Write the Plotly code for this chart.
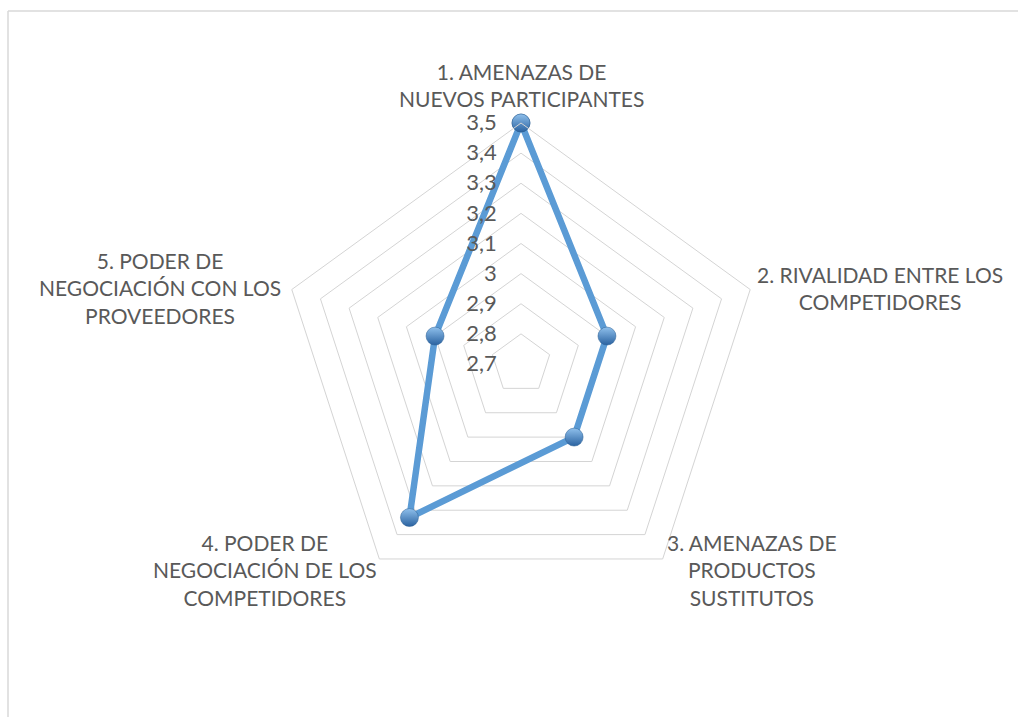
import plotly.graph_objects as go

categories = [
    "1. AMENAZAS DE<br>NUEVOS PARTICIPANTES",
    "2. RIVALIDAD ENTRE LOS<br>COMPETIDORES",
    "3. AMENAZAS DE<br>PRODUCTOS<br>SUSTITUTOS",
    "4. PODER DE<br>NEGOCIACIÓN DE LOS<br>COMPETIDORES",
    "5. PODER DE<br>NEGOCIACIÓN CON LOS<br>PROVEEDORES",
]
values = [3.5, 3.0, 3.0, 3.33, 3.0]
tick_vals = [2.7, 2.8, 2.9, 3.0, 3.1, 3.2, 3.3, 3.4, 3.5]
tick_text = ["2,7", "2,8", "2,9", "3", "3,1", "3,2", "3,3", "3,4", "3,5"]

W, H = 1018, 717
FONT = "Lato, Carlito, Calibri, sans-serif"
TXT = "#595959"
GRID = "#d4d4d4"
BLUE = "#5B9BD5"

fig = go.Figure()
fig.add_trace(go.Scatterpolar(
    r=values + values[:1],
    theta=categories + categories[:1],
    mode="lines+markers",
    line=dict(color=BLUE, width=6.5),
    marker=dict(size=18, color="#8FC0EC",
                gradient=dict(type="vertical", color="#2A62A0"),
                line=dict(color="#2B5F93", width=0.5)),
    showlegend=False,
    hoverinfo="skip",
))

cx, cy, R = 521, 364, 241
fig.update_layout(
    width=W, height=H,
    margin=dict(l=0, r=0, t=0, b=0),
    paper_bgcolor="white",
    font=dict(family=FONT, color=TXT, size=21),
    polar=dict(
        domain=dict(x=[(cx - R) / W, (cx + R) / W],
                    y=[(H - cy - R) / H, (H - cy + R) / H]),
        gridshape="linear",
        bgcolor="white",
        radialaxis=dict(
            range=[2.7, 3.5], tickvals=tick_vals, ticktext=tick_text,
            angle=90, tickangle=90, side="counterclockwise",
            showline=False, gridcolor=GRID, gridwidth=1,
            ticks="outside", ticklen=16, tickcolor="rgba(0,0,0,0)",
            tickfont=dict(family=FONT, size=22, color=TXT),
        ),
        angularaxis=dict(
            direction="clockwise", rotation=90,
            showgrid=False, showticklabels=False, ticks="",
            showline=True, linecolor=GRID, linewidth=1,
        ),
    ),
)

# category labels
label_pos = [(521, 85), (880, 288), (752, 570), (265, 570), (160, 288)]
for text, (x, y) in zip(categories, label_pos):
    fig.add_annotation(x=x / W, y=1 - y / H, xref="paper", yref="paper",
                       text=text, showarrow=False, align="center",
                       xanchor="center", yanchor="middle",
                       font=dict(family=FONT, size=21, color=TXT))

# chart area border (top and left visible)
fig.add_shape(type="line", xref="paper", yref="paper",
              x0=8 / W, x1=1, y0=1 - 11 / H, y1=1 - 11 / H,
              line=dict(color="#d9d9d9", width=1.5))
fig.add_shape(type="line", xref="paper", yref="paper",
              x0=8 / W, x1=8 / W, y0=0, y1=1 - 11 / H,
              line=dict(color="#d9d9d9", width=1.5))

fig.write_html("out.html",
               config={"displayModeBar": False},
               post_script="document.body.style.margin='0';document.body.style.overflow='hidden';")
